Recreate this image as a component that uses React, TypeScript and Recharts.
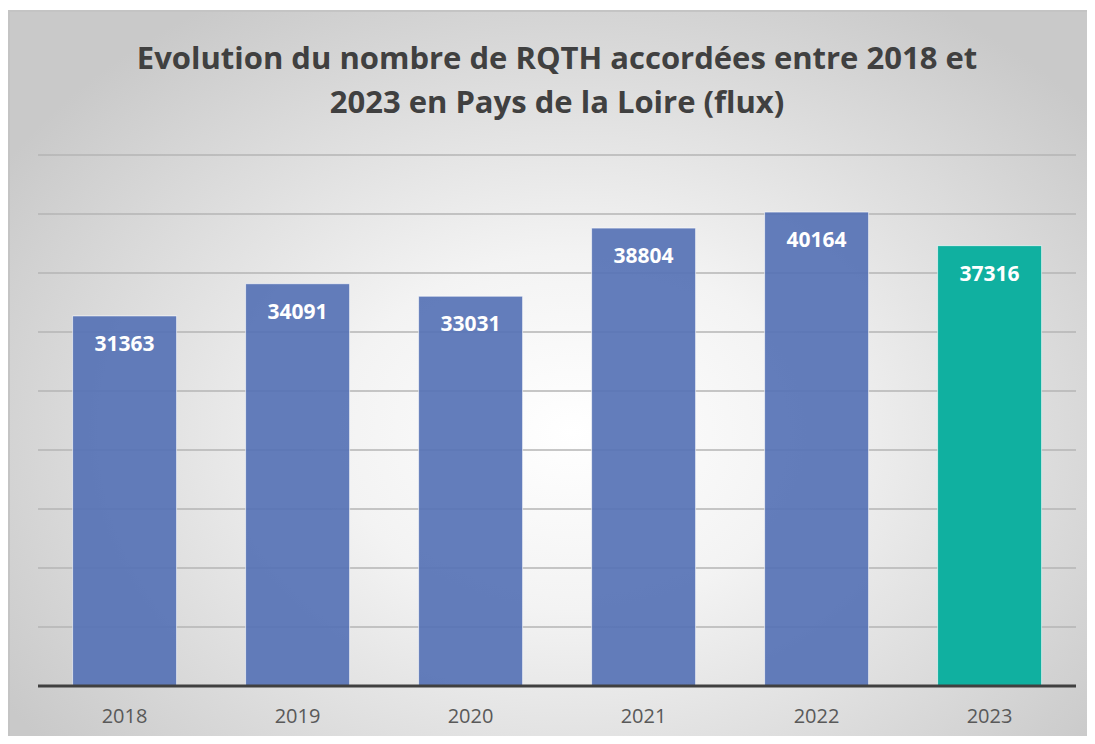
import { BarChart, Bar, XAxis, YAxis, CartesianGrid, LabelList, Cell } from 'recharts'

const years = ['2018', '2019', '2020', '2021', '2022', '2023']
const rqth = [31363, 34091, 33031, 38804, 40164, 37316]
const yTicks = [0, 5000, 10000, 15000, 20000, 25000, 30000, 35000, 40000, 45000]

const BLUE = '#5672b5'
const TEAL = '#10b0a0'
const FONT = '"Open Sans", Lato, sans-serif'

const data = years.map((y, i) => ({ year: y, value: rqth[i] }))

export default function App() {
  return (
    <div
      style={{
        position: 'relative',
        marginTop: 2,
        width: 1084,
        height: 726,
        boxSizing: 'border-box',
        borderTop: '2px solid #c4c4c4',
        borderLeft: '2px solid #c4c4c4',
        background: 'radial-gradient(ellipse 62% 70% at 52% 58%, #ffffff 0%, #f3f3f3 35%, #d6d6d6 80%, #c9c9c9 100%)',
        fontFamily: FONT,
      }}
    >
      <div
        style={{
          position: 'absolute',
          left: 12,
          right: 0,
          top: 23,
          textAlign: 'center',
          fontSize: 31,
          fontWeight: 700,
          lineHeight: '44px',
          color: '#404040',
        }}
      >
        Evolution du nombre de RQTH accordées entre 2018 et
        <br />
        2023 en Pays de la Loire (flux)
      </div>
      <div style={{ position: 'absolute', left: -2, top: -2 }}>
        <BarChart
          width={1084}
          height={726}
          data={data}
          margin={{ top: 145, right: 16, bottom: 0, left: 30 }}
          barCategoryGap="20%"
        >
          <CartesianGrid vertical={false} stroke="#b4b4b4" strokeWidth={1.5} />
          <YAxis hide domain={[0, 45000]} ticks={yTicks} />
          <XAxis
            dataKey="year"
            height={50}
            tickLine={false}
            axisLine={{ stroke: '#404040', strokeWidth: 3 }}
            tickSize={0}
            tickMargin={23}
            tick={{ fontSize: 20, fill: '#595959', fontFamily: FONT }}
          />
          <Bar
            dataKey="value"
            isAnimationActive={false}
            stroke="rgba(255,255,255,0.6)"
            strokeWidth={1}
          >
            {data.map((d, i) => (
              <Cell
                key={d.year}
                fill={i === data.length - 1 ? TEAL : BLUE}
                fillOpacity={i === data.length - 1 ? 1 : 0.92}
              />
            ))}
            <LabelList
              dataKey="value"
              position="insideTop"
              offset={20}
              style={{ fontSize: 21, fontWeight: 700, fill: '#ffffff', fontFamily: FONT }}
            />
          </Bar>
        </BarChart>
      </div>
    </div>
  )
}
